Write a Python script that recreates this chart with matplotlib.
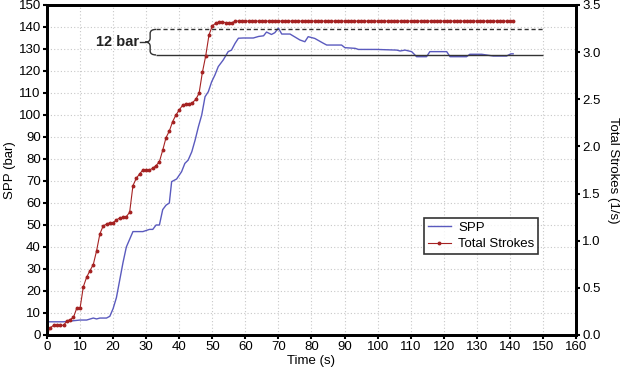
import numpy as np
import matplotlib
matplotlib.use('Agg')
import matplotlib.pyplot as plt
from matplotlib.path import Path
from matplotlib.patches import PathPatch

# SPP (bar) vs time (s)
spp_t = [0, 5, 10, 12, 14, 15, 16, 18, 19, 20, 21, 22, 23, 24, 25, 26, 27, 29, 30, 31, 32, 33, 34,
         35, 36, 37, 37.7, 39.2, 40.7, 41.7, 42.7, 43.8, 44.8, 45.8, 46.8, 47.8, 48.8, 49.8, 50.8,
         51.8, 53.3, 54.8, 55.8, 56.9, 57.9, 59.4, 62.4, 64, 65.5, 66.4, 67.9, 68.9, 70, 71, 73.5,
         76.5, 78, 79, 81, 83.6, 84.6, 89.1, 90.1, 93.2, 94.2, 99.7, 105.8, 106.8, 108.3, 110.3,
         111.8, 114.8, 115.8, 120.9, 121.9, 126.9, 127.9, 131.5, 135, 139, 140.3, 141]
spp = [6.0, 6.0, 6.8, 6.8, 7.7, 7.3, 7.7, 7.7, 8.5, 12, 17, 25, 33, 40, 43.5, 47, 47, 47, 47.5, 48,
       48, 50, 50, 57, 59, 60, 69.7, 70.9, 74.2, 78, 79.5, 83.3, 88.6, 94.7, 100, 108.3, 110.6,
       115.1, 118.2, 122, 125, 128.8, 129.5, 132.6, 134.9, 135, 135, 135.7, 136, 137.7, 136.6,
       137.4, 139.5, 136.8, 136.8, 134.1, 133.3, 135.6, 134.8, 132.6, 131.8, 131.8, 130.6, 130.3,
       129.8, 129.8, 129.5, 129.1, 129.5, 128.8, 126.5, 126.5, 128.8, 128.8, 126.5, 126.5, 127.6,
       127.6, 126.8, 126.8, 127.8, 127.8]

strokes_t = list(range(0, 142))
strokes_spp_eq = [2.3, 3.3, 4.4, 4.4, 4.4, 4.4, 6.3, 7.0, 8.0, 12.2, 12.2, 22.0, 26.3, 29.3, 32.0,
                  38.3, 46.0, 49.6, 50.4, 51.0, 51.0, 52.3, 53.2, 53.5, 53.8, 55.8, 67.9, 71.2,
                  73.2, 75.0, 75.0, 75.0, 75.8, 77.0, 78.8, 84.0, 89.7, 92.7, 97.0, 100.0, 102.3,
                  104.4, 105.0, 105.0, 105.6, 107.1, 109.9, 119.4, 126.8, 136.4, 140.5, 141.7,
                  142.3, 142.3, 142.0, 142.0, 142.0] + [142.7] * 85
strokes = [v * 3.5 / 150 for v in strokes_spp_eq]

upper_level = 138.9
lower_level = 127.3
line_start, line_end = 33.0, 150

plt.rcParams['font.family'] = ['Liberation Sans', 'DejaVu Sans']
fig = plt.figure(figsize=(6.2, 3.73), dpi=100)
ax = fig.add_axes([0.0758, 0.1019, 0.8532, 0.8847])
ax2 = ax.twinx()

ax.grid(True, color='#c8c8c8', linestyle=(0, (1, 2)), linewidth=0.8)
ax.set_axisbelow(True)

l1, = ax.plot(spp_t, spp, color='#5a5abe', linewidth=1.0, label='SPP')
l2, = ax2.plot(strokes_t, strokes, color='#a52222', linewidth=0.8, marker='o', markersize=1.8,
               label='Total Strokes')

ax.hlines(upper_level, line_start, line_end, colors='#333333', linestyles=(0, (3, 2)), linewidth=1.0)
ax.hlines(lower_level, line_start, line_end, colors='#333333', linewidth=1.0)

# curly brace marking the 12 bar band
x1, xm, x0 = line_start, 31.2, 29.7
r = 1.8
mid = (upper_level + lower_level) / 2
verts = [(x1, upper_level), (xm, upper_level), (xm, upper_level - r),
         (xm, mid + r), (xm, mid), (x0, mid),
         (xm, mid), (xm, mid - r),
         (xm, lower_level + r), (xm, lower_level), (x1, lower_level)]
codes = [Path.MOVETO, Path.CURVE3, Path.CURVE3,
         Path.LINETO, Path.CURVE3, Path.CURVE3,
         Path.CURVE3, Path.CURVE3,
         Path.LINETO, Path.CURVE3, Path.CURVE3]
ax.add_patch(PathPatch(Path(verts, codes), facecolor='none', edgecolor='#333333', linewidth=1.0))
ax.plot([x0 - 1.6, x0], [mid, mid], color='#333333', linewidth=1.0)
ax.text(x0 - 1.8, mid, '12 bar', ha='right', va='center', fontsize=10.5, fontweight='bold', color='#222222')

ax.set_xlim(0, 160)
ax.set_ylim(0, 150)
ax2.set_ylim(0, 3.5)
ax.set_xticks(np.arange(0, 161, 10))
ax.set_yticks(np.arange(0, 151, 10))
ax2.set_yticks(np.arange(0, 3.51, 0.5))
ax2.set_yticklabels(['%.1f' % v for v in np.arange(0, 3.51, 0.5)])

ax.set_xlabel('Time (s)', fontsize=9.5, labelpad=1)
ax.set_ylabel('SPP (bar)', fontsize=9.5, labelpad=2)
ax2.set_ylabel('Total Strokes (1/s)', fontsize=9.5, rotation=270, labelpad=13)

for a in (ax, ax2):
    a.tick_params(labelsize=9.5, width=1.5, length=3, pad=1.5)
    for s in a.spines.values():
        s.set_linewidth(2)

leg = ax.legend([l1, l2], ['SPP', 'Total Strokes'], loc='upper left', bbox_to_anchor=(0.712, 0.355),
                fontsize=9.5, frameon=True, fancybox=False, edgecolor='black', handlelength=1.8,
                borderpad=0.3, labelspacing=0.3, handletextpad=0.5, borderaxespad=0)
leg.get_frame().set_linewidth(1.2)

fig.savefig('out.png', dpi=100)
